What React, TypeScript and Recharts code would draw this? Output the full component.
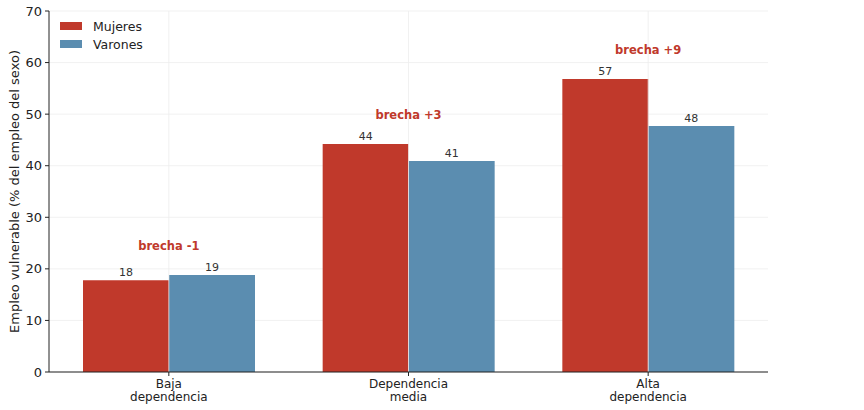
import {
  ComposedChart,
  Bar,
  Line,
  XAxis,
  YAxis,
  CartesianGrid,
  LabelList,
  ReferenceLine,
} from "recharts";

const categories = ["Baja\ndependencia", "Dependencia\nmedia", "Alta\ndependencia"];
const mujeres = [17.8, 44.2, 56.8];
const varones = [18.8, 40.9, 47.7];
const yTicks = [0, 10, 20, 30, 40, 50, 60, 70];

const RED = "#c0392b";
const BLUE = "#5b8db0";
const GRID = "#eeeeee";
const FONT = "'DejaVu Sans', sans-serif";

const data = categories.map((cat, i) => ({
  cat,
  mujeres: mujeres[i],
  varones: varones[i],
  top: Math.max(mujeres[i], varones[i]),
  gap: Math.round(mujeres[i] - varones[i]),
}));

const CatTick = ({ x, y, payload }: any) => {
  const lines = String(payload.value).split("\n");
  return (
    <text x={x} y={y} textAnchor="middle" fontSize={12} fill="#222" fontFamily={FONT}>
      {lines.map((l, i) => (
        <tspan key={i} x={x} dy={i === 0 ? 10 : 13}>
          {l}
        </tspan>
      ))}
    </text>
  );
};

const GapLabel = ({ x, y, index }: any) => {
  const g = data[index].gap;
  return (
    <text
      x={x}
      y={y - 25}
      textAnchor="middle"
      fontSize={11.5}
      fontWeight="bold"
      fill={RED}
      fontFamily={FONT}
    >
      {`brecha ${g > 0 ? "+" : ""}${g}`}
    </text>
  );
};

const LegendBox = () => (
  <div
    style={{
      position: "absolute",
      left: 60,
      top: 17,
      fontFamily: FONT,
      fontSize: 12.5,
      color: "#222",
    }}
  >
    {[
      { name: "Mujeres", color: RED },
      { name: "Varones", color: BLUE },
    ].map((s) => (
      <div key={s.name} style={{ display: "flex", alignItems: "center", height: 18 }}>
        <span style={{ width: 22, height: 8, background: s.color, marginRight: 11 }} />
        <span>{s.name}</span>
      </div>
    ))}
  </div>
);

export default function App() {
  return (
    <div style={{ position: "fixed", left: 0, top: 0, width: 864, height: 410, background: "#fff" }}>
      <ComposedChart
        width={864}
        height={410}
        data={data}
        margin={{ top: 11, right: 96, bottom: 8, left: 0 }}
        barGap={0}
      >
        <CartesianGrid stroke={GRID} strokeWidth={0.8} vertical={false} />
        {categories.map((c) => (
          <ReferenceLine key={c} x={c} stroke={GRID} strokeWidth={0.8} />
        ))}
        <XAxis
          dataKey="cat"
          height={30}
          tick={<CatTick />}
          tickLine={{ stroke: "#222" }}
          axisLine={{ stroke: "#222" }}
          tickSize={4}
          interval={0}
        />
        <YAxis
          width={49}
          domain={[0, 70]}
          ticks={yTicks}
          tick={{ fontSize: 13, fill: "#222", fontFamily: FONT }}
          tickLine={{ stroke: "#222" }}
          axisLine={{ stroke: "#222" }}
          tickSize={4}
          tickMargin={3}
          label={{
            content: ({ viewBox }: any) => (
              <text
                x={14}
                y={viewBox.y + viewBox.height / 2}
                transform={`rotate(-90, 14, ${viewBox.y + viewBox.height / 2})`}
                textAnchor="middle"
                dominantBaseline="central"
                fontSize={13}
                fill="#222"
                fontFamily={FONT}
              >
                Empleo vulnerable (% del empleo del sexo)
              </text>
            ),
          }}
        />
        <Bar dataKey="mujeres" name="Mujeres" fill={RED} barSize={86} isAnimationActive={false}>
          <LabelList
            dataKey="mujeres"
            position="top"
            offset={4}
            formatter={(v: any) => Math.round(v)}
            style={{ fontSize: 11, fill: "#333", fontFamily: FONT }}
          />
        </Bar>
        <Bar dataKey="varones" name="Varones" fill={BLUE} barSize={86} isAnimationActive={false}>
          <LabelList
            dataKey="varones"
            position="top"
            offset={4}
            formatter={(v: any) => Math.round(v)}
            style={{ fontSize: 11, fill: "#333", fontFamily: FONT }}
          />
        </Bar>
        <Line
          dataKey="top"
          stroke="none"
          dot={false}
          activeDot={false}
          legendType="none"
          isAnimationActive={false}
        >
          <LabelList dataKey="top" content={<GapLabel />} />
        </Line>
      </ComposedChart>
      <LegendBox />
    </div>
  );
}
